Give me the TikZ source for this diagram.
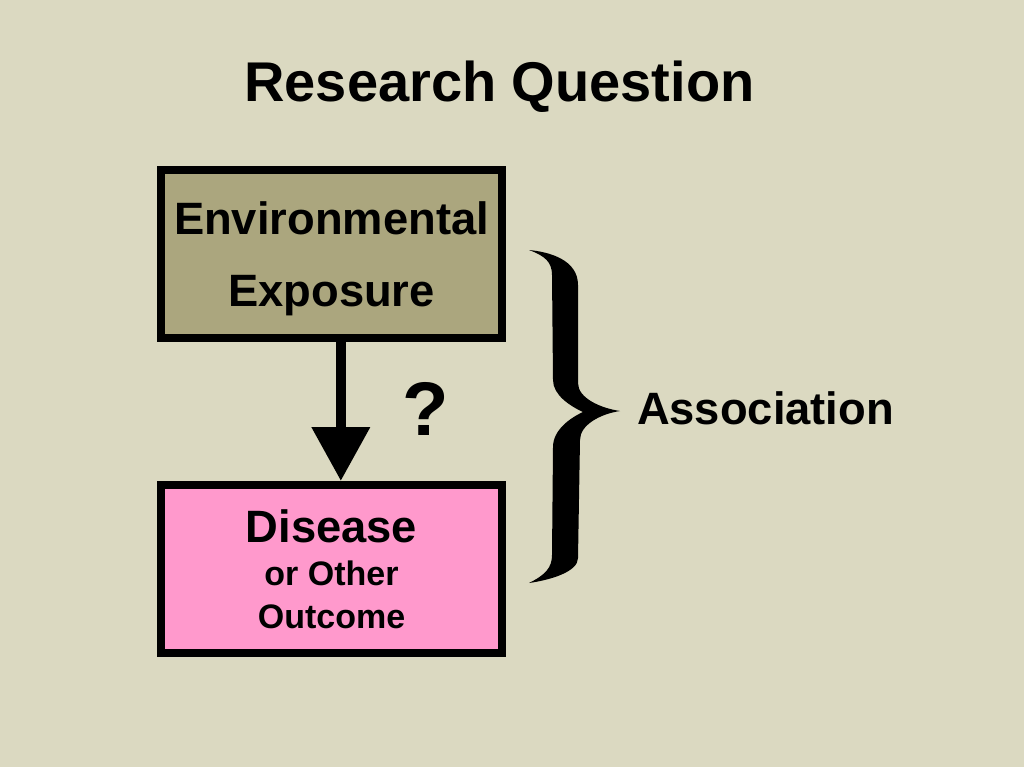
\documentclass[tikz,border=0pt]{standalone}
\usepackage{fontspec}
\setmainfont{Liberation Sans}
\usetikzlibrary{arrows.meta, positioning}
\definecolor{slidebg}{HTML}{DBD9C1}
\definecolor{colive}{HTML}{ABA67E}
\definecolor{cpink}{HTML}{FF99CC}

\tikzset{
  box/.style={draw=black, line width=6pt, minimum width=255.75pt, minimum height=126pt,
    align=center, text depth=0pt, font=\bfseries},
}

\begin{document}
\begin{tikzpicture}[x=0.75pt, y=-0.75pt]
  % slide background
  \fill[slidebg] (0,0) rectangle (1024,767);
  \node[font=\fontsize{42}{50}\selectfont\bfseries, anchor=base] (title) at (499.5,102) {Research Question};
  % the two boxes
  \node[box, fill=colive, font=\fontsize{34}{54}\selectfont\bfseries] (expo) at (331.5,254) {Environmental\\Exposure};
  \node[box, fill=cpink, font=\fontsize{25.5}{32}\selectfont\bfseries] (dis) at (331.5,569)
    {{\fontsize{34}{40}\selectfont Disease}\\or Other\\Outcome};
  \draw[line width=8pt, -{Triangle[length=40.5pt, width=42pt]}] ([xshift=7pt]expo.south) -- ([xshift=7pt]dis.north);
  \node[font=\fontsize{57}{60}\selectfont\bfseries] (q) at (425.5,409) {?};
  % brace
  \fill (529,250) .. controls (550,252) and (578,260) .. (578,285)
    -- (578,383) .. controls (578,398) and (600,408) .. (620,411)
    .. controls (600,414) and (580,425) .. (580,440)
    -- (578,558) .. controls (578,572) and (550,580) .. (529,583)
    .. controls (545,575) and (552,568) .. (552,555)
    -- (553,447) .. controls (553,430) and (570,418) .. (583,412)
    .. controls (570,406) and (553,395) .. (553,380)
    -- (552,275) .. controls (552,262) and (545,256) .. cycle;
  \node[font=\fontsize{34}{40}\selectfont\bfseries, anchor=base] (assoc) at (765.5,424) {Association};
\end{tikzpicture}
\end{document}
